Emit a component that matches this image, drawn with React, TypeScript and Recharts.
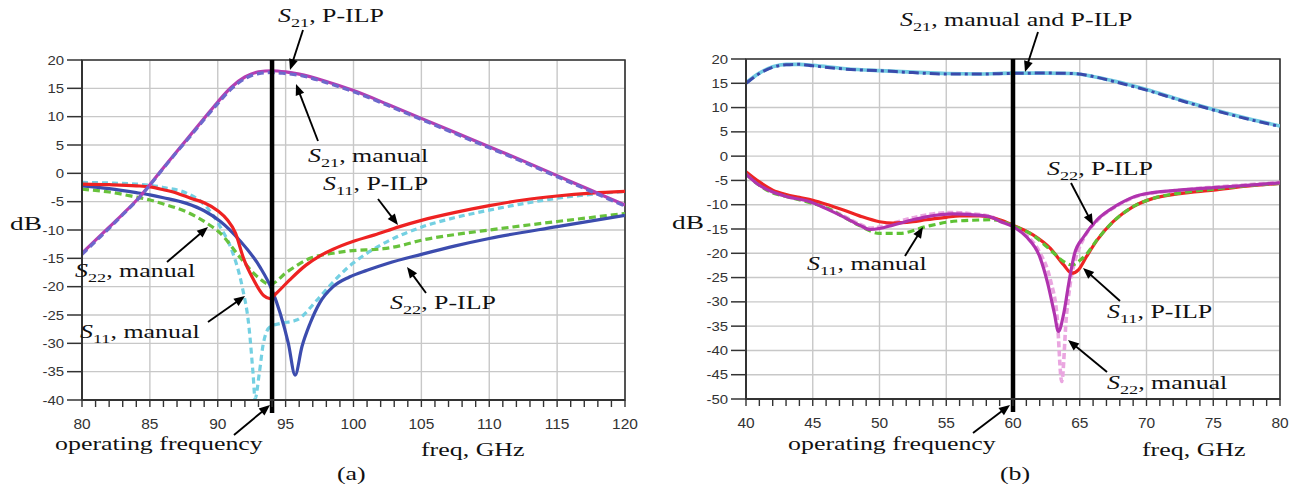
import React from "react";
import { LineChart, Line, XAxis, YAxis, CartesianGrid, ReferenceLine, ReferenceArea } from "recharts";

// ---------------- Chart (a): 80–120 GHz ----------------
const aS21Freq = [80, 81, 82, 83, 84, 85, 86, 87, 88, 89, 90, 91, 92, 93, 94, 95, 96, 98, 100, 102.5, 105, 107.5, 110, 112.5, 115, 117.5, 120];
const aS21Pilp = [-14.1, -11.8, -9.5, -7.2, -4.8, -2.0, 1.0, 3.9, 6.8, 9.7, 12.6, 15.2, 17.0, 17.9, 18.1, 17.9, 17.5, 16.2, 14.6, 12.2, 9.7, 7.2, 4.7, 2.2, -0.4, -3.0, -5.6];
const aS21Manual = [-14.3, -12.0, -9.7, -7.3, -4.9, -2.1, 0.9, 3.8, 6.6, 9.5, 12.3, 14.9, 16.7, 17.6, 17.8, 17.6, 17.3, 16.0, 14.4, 12.0, 9.5, 7.0, 4.5, 2.0, -0.6, -3.2, -5.8];

const aS11PilpFreq = [80, 82, 84, 85, 86, 87, 88, 89, 90, 90.7, 91.3, 91.9, 92.6, 93.4, 93.85, 94.3, 95.3, 96.5, 97.5, 98.5, 100, 101.5, 103.4, 105, 107.5, 110, 112.5, 115, 117.5, 120];
const aS11Pilp = [-1.9, -2.0, -2.2, -2.4, -2.9, -3.5, -4.4, -5.2, -6.6, -8.2, -10.5, -15.0, -18.6, -21.6, -22.1, -21.2, -18.8, -16.2, -14.6, -13.4, -12.0, -10.9, -9.4, -8.3, -6.9, -5.7, -4.7, -4.0, -3.5, -3.2];

const aS11ManualFreq = [80, 82, 84, 85, 86, 87.7, 89, 90.2, 91.1, 91.8, 92.3, 92.6, 92.75, 93.06, 93.36, 93.85, 94.6, 95.8, 97.3, 98.3, 99.5, 100, 102.2, 105, 107.5, 110, 115, 120];
const aS11Manual = [-1.6, -1.7, -1.9, -2.1, -2.5, -3.5, -5.5, -9.5, -14.0, -20.0, -27.1, -35.3, -39.8, -35.3, -30.0, -27.1, -26.5, -25.9, -22.4, -19.7, -16.8, -15.8, -12.4, -9.5, -7.8, -6.5, -4.4, -3.2];

const aS22PilpFreq = [80, 82, 84, 85, 86, 87.7, 89, 90.2, 91.6, 93.1, 94, 94.6, 95.2, 95.7, 96.2, 96.8, 97.5, 98.5, 99.7, 101, 102.5, 105, 107.5, 110, 115, 120];
const aS22Pilp = [-2.2, -2.7, -3.4, -3.8, -4.3, -5.3, -6.6, -8.5, -11.8, -16.5, -20.6, -24.7, -30.0, -35.6, -30.6, -26.5, -22.9, -20.0, -18.3, -17.1, -15.9, -14.3, -12.8, -11.5, -9.4, -7.4];

const aS22ManualFreq = [80, 82, 84, 85, 86, 87.7, 89.2, 90.2, 91.6, 92.9, 93.85, 95.1, 96.8, 98.5, 99.7, 102.2, 103.4, 105, 107.5, 110, 115, 120];
const aS22Manual = [-2.8, -3.3, -4.2, -4.7, -5.4, -6.8, -8.8, -10.6, -14.7, -18.2, -19.6, -17.4, -15.0, -14.1, -13.7, -13.3, -12.8, -11.8, -10.8, -10.0, -8.5, -7.1];

const aXTicks = [80, 85, 90, 95, 100, 105, 110, 115, 120];
const aYTicks = [20, 15, 10, 5, 0, -5, -10, -15, -20, -25, -30, -35, -40];
const aOperatingFreq = 94;

// ---------------- Chart (b): 40–80 GHz ----------------
const bS21Freq = [40, 41, 42, 43, 44, 45, 47.5, 50, 52.5, 55, 57.5, 60, 62.5, 64.5, 66, 67.5, 70, 72.5, 75, 77.5, 80];
const bS21Pilp = [15.0, 17.0, 18.3, 18.8, 18.9, 18.6, 17.9, 17.6, 17.2, 16.9, 16.9, 17.05, 17.1, 17.0, 16.4, 15.4, 13.6, 11.5, 9.5, 7.7, 6.1];
const bS21Manual = [15.1, 17.1, 18.4, 18.9, 18.9, 18.7, 18.0, 17.6, 17.3, 17.0, 16.9, 17.1, 17.1, 17.0, 16.4, 15.5, 13.7, 11.6, 9.6, 7.8, 6.2];

const bS11PilpFreq = [40, 41, 42, 43, 44, 45, 46, 47.3, 48.5, 50, 51, 52.5, 53.5, 55, 56, 57.5, 59, 60, 61.5, 62.8, 63.8, 64.4, 64.9, 65.5, 66.3, 67.5, 69, 70.5, 72.5, 75, 77.5, 80];
const bS11Pilp = [-3.2, -5.3, -7.0, -7.9, -8.5, -9.1, -9.9, -11.1, -12.3, -13.5, -13.8, -13.5, -13.1, -12.6, -12.3, -12.3, -13.1, -14.2, -16.2, -19.0, -22.4, -24.1, -23.4, -20.7, -17.3, -13.5, -10.4, -8.7, -7.7, -7.0, -6.2, -5.6];

const bS11ManualFreq = [40, 41, 42, 43, 44.8, 46, 47.3, 48.5, 50, 51.5, 53.5, 55.3, 57, 58.3, 59, 60, 61.5, 62.8, 63.8, 64.4, 65, 65.5, 66.3, 67.5, 69, 70.5, 72.5, 75, 77.5, 80];
const bS11Manual = [-3.7, -6.0, -7.6, -8.3, -9.6, -10.6, -12.5, -14.3, -15.9, -15.9, -14.5, -13.5, -13.2, -13.1, -13.3, -14.3, -16.3, -19.3, -21.7, -22.4, -21.5, -20.2, -17.2, -13.5, -10.4, -8.7, -7.6, -6.8, -6.1, -5.6];

const bS22PilpFreq = [40, 41, 42, 43, 44.8, 46, 47.3, 48.5, 49.3, 50, 51, 52.5, 53.5, 55.5, 57, 58.3, 59, 60, 61, 62, 62.6, 63.1, 63.4, 63.8, 64.2, 64.6, 65.3, 66.3, 67.8, 69.5, 72.5, 75, 77.5, 80];
const bS22Pilp = [-3.7, -6.0, -7.4, -8.3, -9.4, -10.8, -12.5, -14.2, -15.1, -14.9, -14.2, -13.1, -12.5, -11.9, -12.1, -12.5, -13.4, -14.5, -16.6, -20.7, -26.2, -32.4, -36.1, -32.4, -25.8, -20.2, -16.6, -13.1, -10.1, -8.0, -7.0, -6.5, -6.0, -5.5];

const bS22ManualFreq = [40, 41, 42, 43, 44.8, 46, 47.3, 48.5, 49.3, 50, 51, 52.5, 53.5, 55.5, 57, 58.3, 59, 60, 61, 62, 62.8, 63.3, 63.65, 64, 64.3, 64.7, 65.3, 66.3, 67.8, 69.5, 72.5, 75, 77.5, 80];
const bS22Manual = [-3.5, -5.8, -7.2, -8.1, -9.2, -10.6, -12.3, -14.0, -14.8, -14.6, -13.8, -12.7, -12.1, -11.6, -11.9, -12.4, -13.2, -14.3, -16.3, -19.8, -25.5, -33.0, -46.4, -33.0, -26.0, -21.0, -16.9, -13.3, -10.2, -8.1, -7.0, -6.4, -5.9, -5.4];

const bXTicks = [40, 45, 50, 55, 60, 65, 70, 75, 80];
const bYTicks = [20, 15, 10, 5, 0, -5, -10, -15, -20, -25, -30, -35, -40, -45, -50];
const bOperatingFreq = 60;

// ---------------- helpers ----------------
const zip = (f: number[], v: number[]) => f.map((x, i) => ({ f: x, v: v[i] }));

type Series = { name: string; data: { f: number; v: number }[]; color: string; width: number; dash?: string };

const seriesA: Series[] = [
  { name: "S11 manual", data: zip(aS11ManualFreq, aS11Manual), color: "#74d0e2", width: 3.2, dash: "6 4" },
  { name: "S22 manual", data: zip(aS22ManualFreq, aS22Manual), color: "#68c23c", width: 3.2, dash: "7 4" },
  { name: "S22 P-ILP", data: zip(aS22PilpFreq, aS22Pilp), color: "#3c4cae", width: 3.2 },
  { name: "S11 P-ILP", data: zip(aS11PilpFreq, aS11Pilp), color: "#ee2222", width: 3.2 },
  { name: "S21 P-ILP", data: zip(aS21Freq, aS21Pilp), color: "#b63db2", width: 3.2 },
  { name: "S21 manual", data: zip(aS21Freq, aS21Manual), color: "#6d68cc", width: 3.2, dash: "7 4" },
];

const seriesB: Series[] = [
  { name: "S21 manual", data: zip(bS21Freq, bS21Manual), color: "#72cbe2", width: 3.6 },
  { name: "S21 P-ILP", data: zip(bS21Freq, bS21Pilp), color: "#3a4aab", width: 3, dash: "10 4 3 4" },
  { name: "S22 manual", data: zip(bS22ManualFreq, bS22Manual), color: "#eaa6e0", width: 3.6, dash: "6 3" },
  { name: "S11 P-ILP", data: zip(bS11PilpFreq, bS11Pilp), color: "#ee2424", width: 3.2 },
  { name: "S11 manual", data: zip(bS11ManualFreq, bS11Manual), color: "#5ec234", width: 3.2, dash: "7 4" },
  { name: "S22 P-ILP", data: zip(bS22PilpFreq, bS22Pilp), color: "#b033ae", width: 3.2 },
];

const SANS = "'Liberation Sans', Arial, sans-serif";
const SERIF = "'Liberation Serif', 'Times New Roman', serif";
const SX = 1.4;
const X_TICK = 7;
const X_MARGIN = 2;
const Y_TICK = 15;
const Y_MARGIN = 3;

const VLineShape = (p: any) => {
  const top = Math.min(p.y1, p.y2);
  const bot = Math.max(p.y1, p.y2);
  return <line x1={p.x1} x2={p.x2} y1={top} y2={bot + 13} stroke="#000" strokeWidth={4.5} />;
};

type ChartProps = {
  width: number;
  height: number;
  margin: { top: number; right: number; bottom: number; left: number };
  xDomain: [number, number];
  yDomain: [number, number];
  xMajor: number[];
  yTicks: number[];
  opFreq: number;
  series: Series[];
};

function SChart({ width, height, margin, xDomain, yDomain, xMajor, yTicks, opFreq, series }: ChartProps) {
  const minor: number[] = [];
  for (let v = xDomain[0]; v <= xDomain[1]; v++) minor.push(v);
  const xTick = (p: any) => {
    const val = p.payload?.value;
    if (!xMajor.includes(val)) return <g />;
    return (
      <text x={p.x} y={p.y + 20} textAnchor="middle" fontFamily={SANS} fontSize={15.5} fill="#333">
        {val}
      </text>
    );
  };
  const yTick = (p: any) => (
    <text
      transform={`translate(${p.x},${p.y + 4.5}) scale(1.15,1)`}
      textAnchor="end"
      fontFamily={SANS}
      fontSize={13}
      fill="#333"
    >
      {p.payload?.value}
    </text>
  );
  return (
    <LineChart width={width} height={height} margin={margin}>
      <CartesianGrid stroke="#c8c8c8" strokeWidth={1.4} verticalValues={xMajor} horizontalValues={yTicks} />
      <XAxis
        dataKey="f"
        type="number"
        domain={xDomain}
        ticks={minor}
        interval={0}
        tickSize={X_TICK}
        tickMargin={X_MARGIN}
        height={30}
        allowDataOverflow
        axisLine={{ stroke: "#333", strokeWidth: 2 }}
        tickLine={{ stroke: "#333", strokeWidth: 1.4 }}
        tick={xTick}
      />
      <YAxis
        type="number"
        domain={yDomain}
        ticks={yTicks}
        interval={0}
        tickSize={Y_TICK}
        tickMargin={Y_MARGIN}
        width={60}
        allowDataOverflow
        axisLine={{ stroke: "#333", strokeWidth: 2 }}
        tickLine={{ stroke: "#333", strokeWidth: 1.5 }}
        tick={yTick}
      />
      <ReferenceArea
        x1={xDomain[0]}
        x2={xDomain[1]}
        y1={yDomain[0]}
        y2={yDomain[1]}
        fill="none"
        fillOpacity={0}
        stroke="#333"
        strokeWidth={1.6}
      />
      {series.map((s) => (
        <Line
          key={s.name}
          name={s.name}
          data={s.data}
          dataKey="v"
          type="monotone"
          stroke={s.color}
          strokeWidth={s.width}
          strokeDasharray={s.dash}
          dot={false}
          activeDot={false}
          isAnimationActive={false}
        />
      ))}
      <ReferenceLine x={opFreq} stroke="#000" strokeWidth={4.5} shape={VLineShape} ifOverflow="visible" />
    </LineChart>
  );
}

// ---------------- annotations ----------------
function SLabel({ x, y, sub, text }: { x: number; y: number; sub: string; text: string }) {
  return (
    <text transform={`translate(${x},${y}) scale(${SX},1)`} fontFamily={SERIF} fontSize={18.5} fill="#111">
      <tspan fontStyle="italic">S</tspan>
      <tspan fontSize={13} dy={4.5}>
        {sub}
      </tspan>
      <tspan dy={-4.5}>{text}</tspan>
    </text>
  );
}

function PLabel({ x, y, text, size = 18.5 }: { x: number; y: number; text: string; size?: number }) {
  return (
    <text transform={`translate(${x},${y}) scale(${SX},1)`} fontFamily={SERIF} fontSize={size} fill="#111">
      {text}
    </text>
  );
}

function Arrow({ x1, y1, x2, y2 }: { x1: number; y1: number; x2: number; y2: number }) {
  const dx = x2 - x1;
  const dy = y2 - y1;
  const L = Math.hypot(dx, dy);
  const ux = dx / L;
  const uy = dy / L;
  const hl = 11;
  const hw = 4.5;
  const bx = x2 - ux * hl;
  const by = y2 - uy * hl;
  const pts = `${x2},${y2} ${bx - uy * hw},${by + ux * hw} ${bx + uy * hw},${by - ux * hw}`;
  return (
    <g>
      <line x1={x1} y1={y1} x2={bx + ux * 1} y2={by + uy * 1} stroke="#000" strokeWidth={1.9} />
      <polygon points={pts} fill="#000" />
    </g>
  );
}

function Annotations() {
  return (
    <svg width={1291} height={492} style={{ position: "absolute", left: 0, top: 0, pointerEvents: "none" }}>
      {/* chart (a) */}
      <SLabel x={278} y={22} sub="21" text=", P-ILP" />
      <Arrow x1={303} y1={30} x2={290} y2={70} />
      <SLabel x={308} y={162} sub="21" text=", manual" />
      <Arrow x1={318} y1={141} x2={296} y2={84} />
      <SLabel x={323} y={190} sub="11" text=", P-ILP" />
      <Arrow x1={378} y1={199} x2={398} y2={225} />
      <SLabel x={75} y={277} sub="22" text=", manual" />
      <Arrow x1={167} y1={262} x2={208} y2={227} />
      <SLabel x={80} y={338} sub="11" text=", manual" />
      <Arrow x1={208} y1={322} x2={245} y2={296} />
      <SLabel x={390} y={309} sub="22" text=", P-ILP" />
      <Arrow x1={426} y1={293} x2={407} y2={267} />
      <PLabel x={55} y={450} text="operating frequency" />
      <Arrow x1={234} y1={435} x2={270} y2={405} />
      <PLabel x={421} y={456} text="freq, GHz" />
      <PLabel x={337} y={480} text="(a)" />
      <PLabel x={10} y={230} text="dB" size={19.5} />

      {/* chart (b) */}
      <SLabel x={900} y={26} sub="21" text=", manual and P-ILP" />
      <Arrow x1={1038} y1={32} x2={1025} y2={72} />
      <SLabel x={1047} y={175} sub="22" text=", P-ILP" />
      <Arrow x1={1071} y1={183} x2={1093} y2={225} />
      <SLabel x={807} y={270} sub="11" text=", manual" />
      <Arrow x1={905} y1={256} x2={923} y2={227} />
      <SLabel x={1107} y={318} sub="11" text=", P-ILP" />
      <Arrow x1={1120} y1={301} x2={1083} y2={268} />
      <SLabel x={1107} y={389} sub="22" text=", manual" />
      <Arrow x1={1107} y1={372} x2={1068} y2={340} />
      <PLabel x={788} y={450} text="operating frequency" />
      <Arrow x1={973} y1={433} x2={1010} y2={405} />
      <PLabel x={1142} y={456} text="freq, GHz" />
      <PLabel x={1000} y={480} text="(b)" />
      <PLabel x={672} y={229} text="dB" size={19.5} />
    </svg>
  );
}

export default function App() {
  return (
    <div style={{ position: "absolute", left: 0, top: 0, width: 1291, height: 492, background: "#fff", overflow: "hidden" }}>
      <div style={{ position: "absolute", left: 0, top: 0 }}>
        <SChart
          width={640}
          height={492}
          margin={{ top: 60, right: 15, bottom: 62, left: 22 }}
          xDomain={[80, 120]}
          yDomain={[-40, 20]}
          xMajor={aXTicks}
          yTicks={aYTicks}
          opFreq={aOperatingFreq}
          series={seriesA}
        />
      </div>
      <div style={{ position: "absolute", left: 660, top: 0 }}>
        <SChart
          width={631}
          height={492}
          margin={{ top: 59, right: 11, bottom: 63, left: 26 }}
          xDomain={[40, 80]}
          yDomain={[-50, 20]}
          xMajor={bXTicks}
          yTicks={bYTicks}
          opFreq={bOperatingFreq}
          series={seriesB}
        />
      </div>
      <Annotations />
    </div>
  );
}
